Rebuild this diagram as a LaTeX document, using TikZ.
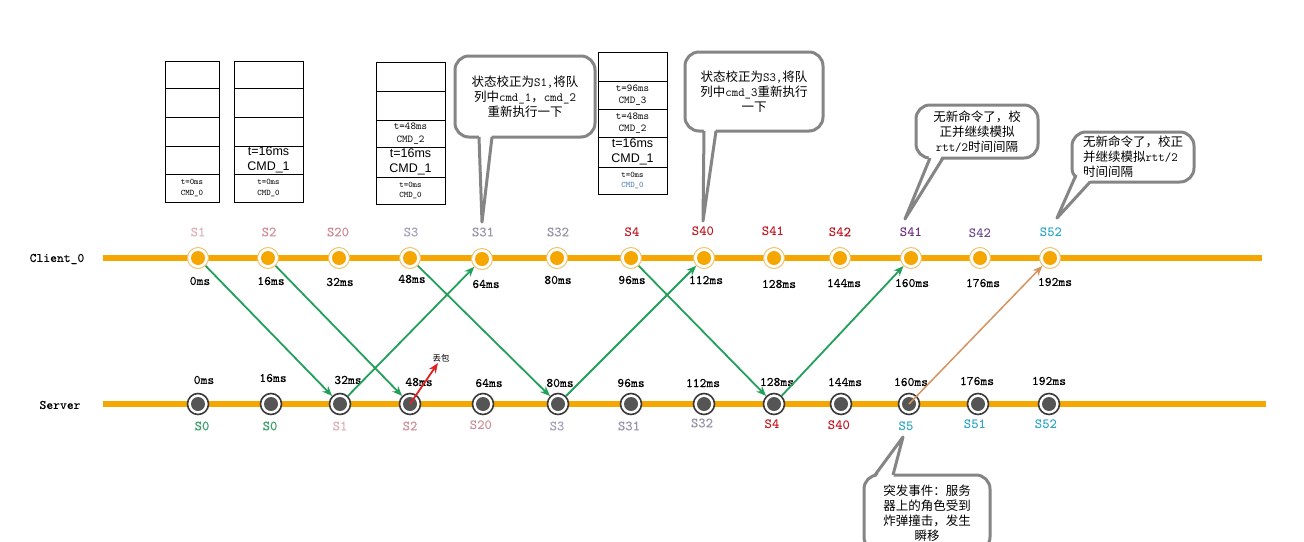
\documentclass[tikz,border=0pt]{standalone}
\usepackage{fontspec}
\newfontfamily\cjk{Noto Sans CJK SC}
\newfontfamily\arialf{Liberation Sans}
\newfontfamily\labfont{lmmono10-regular.otf}[FakeBold=0.2]
\newfontfamily\labfontb{lmmonolt10-bold.otf}
\usetikzlibrary{arrows.meta}
\newcommand\latt[1]{{\ttfamily #1}}
\definecolor{corange}{HTML}{F5A600}
\definecolor{cring}{HTML}{EEC470}
\definecolor{sdark}{HTML}{555555}
\definecolor{sring}{HTML}{3A3A3A}
\definecolor{garrow}{HTML}{22A05A}
\definecolor{tarrow}{HTML}{D49460}
\definecolor{rarrow}{HTML}{E02222}
\definecolor{cgray}{HTML}{858585}
\definecolor{lpinkA}{HTML}{DDB0BA}
\definecolor{lpinkB}{HTML}{D0929C}
\definecolor{lpinkC}{HTML}{CC8C96}
\definecolor{lgrayA}{HTML}{A8A2BA}
\definecolor{lgrayB}{HTML}{9696A8}
\definecolor{lred}{HTML}{C0141E}
\definecolor{lpurple}{HTML}{6E2C80}
\definecolor{lpurpleB}{HTML}{6A4A8E}
\definecolor{lcyan}{HTML}{2AA6C4}
\definecolor{lgreen}{HTML}{3AA06A}
\definecolor{lblue}{HTML}{4A7AB0}
\begin{document}
\begin{tikzpicture}[x=1pt,y=-1pt,
  baseln/.style={draw=corange, line width=6pt},
  cnode/.style={circle, minimum size=21pt, inner sep=0pt, draw=cring, line width=1pt, fill=white,
    path picture={\fill[corange] (path picture bounding box.center) circle (7pt);}},
  snode/.style={circle, minimum size=21pt, inner sep=0pt, draw=sring, line width=1.6pt, fill=white,
    path picture={\fill[sdark] (path picture bounding box.center) circle (7pt);}},
  mslab/.style={font=\labfont\fontsize{13}{13}\selectfont, inner sep=0pt},
  slab/.style={font=\labfont\fontsize{14}{14}\selectfont, inner sep=0pt},
  slabb/.style={font=\labfontb\fontsize{14}{14}\selectfont, inner sep=0pt},
  rowlab/.style={font=\labfont\fontsize{13}{13}\selectfont, inner sep=0pt},
  garr/.style={draw=garrow, line width=1.8pt, -{Stealth[length=10pt,width=8pt]}},
  tarr/.style={draw=tarrow, line width=1.5pt, -{Stealth[length=10pt,width=8pt]}},
  rarr/.style={draw=rarrow, line width=1.8pt, -{Stealth[length=10pt,width=8pt]}},
  callout/.style={draw=cgray, line width=3pt, fill=white, rounded corners=14pt,
    font=\cjk\fontsize{12.5}{15}\selectfont, align=center, inner sep=0pt},
  tailfill/.style={fill=white},
  tailline/.style={draw=cgray, line width=3pt, line join=round},
  boxline/.style={draw=black, line width=0.8pt},
  tinyt/.style={font=\ttfamily\fontsize{8.5}{10.5}\selectfont, align=center, inner sep=0pt},
  midt/.style={font=\ttfamily\fontsize{10.5}{12.5}\selectfont, align=center, inner sep=0pt},
  sanst/.style={font=\arialf\fontsize{12.5}{14.5}\selectfont, align=center, inner sep=0pt}
]
\fill[white] (0,0) rectangle (1304,541);
\useasboundingbox (0,0) rectangle (1304,541);
\clip (0,0) rectangle (1304,541);

% base lines
\draw[baseln] (103,258) -- (1262,258);
\draw[baseln] (103,404) -- (1266,404);
\node[rowlab] (lclient) at (57,259) {Client\_0};
\node[rowlab] (lserver) at (60,405) {Server};

% client nodes
\foreach \i/\x/\y in {0/198/258, 1/268/258, 2/339/258, 3/410/258, 4/482/259, 5/557/258, 6/631/258, 7/704/258, 8/774/258, 9/840/258, 10/911/258, 11/980/258, 12/1050/258}
  \node[cnode] (c\i) at (\x,\y) {};
% server nodes
\foreach \i/\x in {0/198, 1/271, 2/340, 3/410, 4/483, 5/558, 6/631, 7/704, 8/774, 9/841, 10/909, 11/978, 12/1049}
  \node[snode] (s\i) at (\x,404) {};

% client ms labels
\foreach \i/\t/\x/\y in {0/0ms/200/281, 1/16ms/271/281, 2/32ms/340/282, 3/48ms/412/279, 4/64ms/486/284, 5/80ms/558/280, 6/96ms/632/280, 7/112ms/706/280, 8/128ms/779/284, 9/144ms/844/283, 10/160ms/912/283, 11/176ms/983/283, 12/192ms/1055/282}
  \node[mslab] (cm\i) at (\x,\y) {\t};
% server ms labels
\foreach \i/\t/\x/\y in {0/0ms/204/380, 1/16ms/273/378, 2/32ms/348/380, 3/48ms/419/382, 4/64ms/489/383, 5/80ms/560/383, 6/96ms/631/383, 7/112ms/703/383, 8/128ms/777/382, 9/144ms/845/382, 10/160ms/911/382, 11/176ms/977/381, 12/192ms/1049/381}
  \node[mslab] (sm\i) at (\x,\y) {\t};

% client state labels
\node[slab, text=lpinkA] (cs0) at (198,232) {S1};
\node[slab, text=lpinkB] (cs1) at (269,232) {S2};
\node[slab, text=lpinkC] (cs2) at (338,232) {S20};
\node[slab, text=lgrayA] (cs3) at (411,232) {S3};
\node[slab, text=lgrayB] (cs4) at (483,232) {S31};
\node[slab, text=lgrayB] (cs5) at (558,232) {S32};
\node[slabb, text=lred] (cs6) at (632,232) {S4};
\node[slabb, text=lred] (cs7) at (703,231) {S40};
\node[slabb, text=lred] (cs8) at (773,231) {S41};
\node[slab, text=lred] (cs9) at (840,232) {{\labfontb S4}2};
\node[slabb, text=lpurple] (cs10) at (911,232) {S41};
\node[slabb, text=lpurpleB] (cs11) at (980,233) {S42};
\node[slabb, text=lcyan] (cs12) at (1051,232) {S52};

% server state labels
\node[slab, text=lgreen] (ss0) at (202,426) {S0};
\node[slab, text=lgreen] (ss1) at (270,426) {S0};
\node[slab, text=lpinkA] (ss2) at (340,426) {S1};
\node[slab, text=lpinkB] (ss3) at (410,426) {S2};
\node[slabb, text=lpinkC] (ss4) at (481,425) {S20};
\node[slab, text=lgrayA] (ss5) at (557,426) {S3};
\node[slab, text=lgrayB] (ss6) at (629,426) {S31};
\node[slab, text=lgrayB] (ss7) at (702,423) {S32};
\node[slabb, text=lred] (ss8) at (772,424) {S4};
\node[slabb, text=lred] (ss9) at (839,425) {S40};
\node[slabb, text=lcyan] (ss10) at (906,426) {S5};
\node[slabb, text=lcyan] (ss11) at (975,424) {S51};
\node[slabb, text=lcyan] (ss12) at (1046,424) {S52};

% arrows
\draw[garr] (c0) -- (s2);
\draw[garr] (c1) -- (s3);
\draw[garr] (s2) -- (c4);
\draw[garr] (c3) -- (s5);
\draw[garr] (s5) -- (c7);
\draw[garr] (c6) -- (s8);
\draw[garr] (s8) -- (c10);
\draw[tarr] (s10.center) -- (c12);
\coordinate (lost) at (438,363);
\draw[rarr] (s3.center) -- (lost);
\node[font=\cjk\fontsize{8.5}{8.5}\selectfont, inner sep=0pt] (lostlab) at (441,358) {丢包};

% command stacks
\draw[boxline] (165,61) rectangle (219,202);
\foreach \y in {88,117,146,174} \draw[boxline] (165,\y) -- (219,\y);
\node[tinyt] (a5) at (192,188) {t=0ms\\CMD\_0};

\draw[boxline] (234,61) rectangle (303,202);
\foreach \y in {88,117,146,174} \draw[boxline] (234,\y) -- (303,\y);
\node[sanst] (b4) at (268.5,160) {t=16ms\\CMD\_1};
\node[tinyt] (b5) at (268.5,188) {t=0ms\\CMD\_0};

\draw[boxline] (376,62) rectangle (445,204);
\foreach \y in {91,120,147,177} \draw[boxline] (376,\y) -- (445,\y);
\node[midt] (c3t) at (410.5,133.5) {t=48ms\\CMD\_2};
\node[sanst] (c4t) at (410.5,162) {t=16ms\\CMD\_1};
\node[tinyt] (c5t) at (410.5,190.5) {t=0ms\\CMD\_0};

\draw[boxline] (598,52) rectangle (667,194);
\foreach \y in {81,109,137,167} \draw[boxline] (598,\y) -- (667,\y);
\node[midt] (d2t) at (632.5,95) {t=96ms\\CMD\_3};
\node[midt] (d3t) at (632.5,123) {t=48ms\\CMD\_2};
\node[sanst] (d4t) at (632.5,152) {t=16ms\\CMD\_1};
\node[tinyt] (d5t) at (632.5,180.5) {t=0ms\\\textcolor{lblue}{CMD\_0}};

% callout 1
\node[callout, minimum width=140pt, minimum height=81pt] (k1) at (525,96.5)
  {状态校正为\latt{S1,}将队\\列中\latt{cmd\_1}，\latt{cmd\_2}\\重新执行一下};
\coordinate (t1) at (482,222);
\fill[tailfill] (479,133) -- (t1) -- (492,133) -- cycle;
\draw[tailline] (479,137) -- (t1) -- (492,137);

% callout 2
\node[callout, minimum width=138pt, minimum height=79pt] (k2) at (754,91.5)
  {状态校正为\latt{S3,}将队\\列中\latt{cmd\_3}重新执行\\一下};
\coordinate (t2) at (703,221);
\fill[tailfill] (704,127) -- (t2) -- (716,127) -- cycle;
\draw[tailline] (704,131) -- (t2) -- (716,131);

% callout 3
\node[callout, minimum width=122pt, minimum height=53pt] (k3) at (977,131.5)
  {无新命令了，校\\正并继续模拟\\\latt{rtt/2}时间间隔};
\coordinate (t3) at (905,219);
\fill[tailfill] (930,154) -- (t3) -- (943,154) -- cycle;
\draw[tailline] (930,158) -- (t3) -- (943,158);

% callout 4
\node[callout, align=left, minimum width=122pt, minimum height=50pt] (k4) at (1133,157)
  {无新命令了，校正\\并继续模拟\latt{rtt/2}\\时间间隔};
\coordinate (t4) at (1057,218);
\fill[tailfill] (1080,171) -- (t4) -- (1092,178) -- cycle;
\draw[tailline] (1076,175) -- (t4) -- (1090,182);

% callout 5
\node[callout, minimum width=126pt, minimum height=76pt] (k5) at (927,513)
  {突发事件：服务\\器上的角色受到\\炸弹撞击，发生\\瞬移};
\coordinate (t5) at (903,437);
\fill[tailfill] (875,479) -- (t5) -- (893,479) -- cycle;
\draw[tailline] (875,475) -- (t5) -- (893,475);
\end{tikzpicture}
\end{document}
